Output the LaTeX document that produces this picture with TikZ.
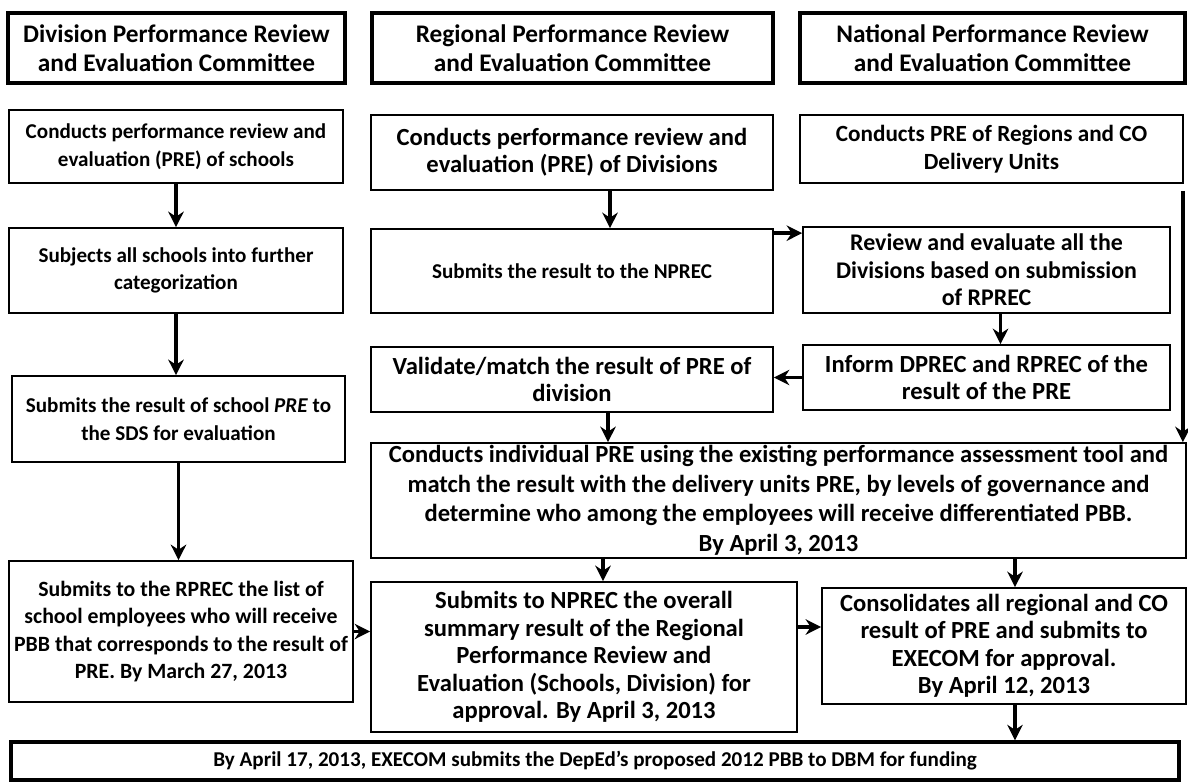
\documentclass[tikz,border=0pt]{standalone}
\usepackage{fontspec}
\setmainfont{Carlito}
\usetikzlibrary{arrows.meta}

\tikzset{
  head/.style={draw, line width=2.4pt, align=center, inner sep=0pt,
    font=\fontsize{18}{21}\selectfont\bfseries},
  box/.style={draw, line width=1.2pt, align=center, inner sep=0pt,
    font=\fontsize{15}{19.5}\selectfont\bfseries},
  fsize/.style={font=\fontsize{#1}{19.5}\selectfont\bfseries},
  arr/.style={line width=2.4pt, -{Stealth[length=11pt,width=11pt]}},
}

\begin{document}
\begin{tikzpicture}[x=0.025cm, y=-0.025cm]
  \useasboundingbox (0,0) rectangle (1188,782);

  % committee headings
  \node[head, minimum width=8.425cm, minimum height=1.75cm] (hdiv) at (176.5,48)
    {Division Performance Review\\and Evaluation Committee};
  \node[head, minimum width=10.025cm, minimum height=1.75cm] (hreg) at (572.5,48)
    {Regional Performance Review\\and Evaluation Committee};
  \node[head, minimum width=9.625cm, minimum height=1.75cm] (hnat) at (992.5,48)
    {National Performance Review\\and Evaluation Committee};

  % division column
  \node[box, minimum width=8.35cm, minimum height=1.825cm] (div1) at (176,146.5)
    {Conducts performance review and\\evaluation (PRE) of schools};
  \node[box, minimum width=8.35cm, minimum height=2.125cm] (div2) at (176,270.5)
    {Subjects all schools into further\\categorization};
  \node[box, minimum width=8.325cm, minimum height=2.15cm] (div3) at (178.5,419)
    {Submits the result of school \textit{PRE} to\\the SDS for evaluation};
  \node[box, fsize=15.5, minimum width=8.6cm, minimum height=3.525cm] (div4) at (181,631.5)
    {Submits to the RPREC the list of\\school employees who will receive\\PBB that corresponds to the result of\\PRE. By March 27, 2013};

  % regional column
  \node[box, fsize=17.5, minimum width=10.05cm, minimum height=1.875cm] (reg1) at (572,152.5)
    {Conducts performance review and\\evaluation (PRE) of Divisions};
  \node[box, minimum width=10.05cm, minimum height=2.1cm] (reg2) at (572,271)
    {Submits the result to the NPREC};
  \node[box, fsize=17.5, minimum width=10.05cm, minimum height=1.625cm] (reg3) at (572,379.5)
    {Validate/match the result of PRE of\\division};
  \node[box, fsize=17.5, minimum width=10.65cm, minimum height=3.75cm] (reg4) at (584,657)
    {Submits to NPREC the overall\\summary result of the Regional\\Performance Review and\\Evaluation (Schools, Division) for\\approval. By April 3, 2013};

  % national column
  \node[box, fsize=16.5, minimum width=9.575cm, minimum height=1.7cm] (nat1) at (991.5,149)
    {Conducts PRE of Regions and CO\\Delivery Units};
  \node[box, fsize=17, minimum width=9.175cm, minimum height=2.15cm] (nat2) at (986.5,270)
    {Review and evaluate all the\\Divisions based on submission\\of RPREC};
  \node[box, fsize=17.5, minimum width=9.175cm, minimum height=1.625cm] (nat3) at (986.5,377.5)
    {Inform DPREC and RPREC of the\\result of the PRE};
  \node[box, fsize=17.5, minimum width=9.1cm, minimum height=2.9cm] (nat4) at (1004,646)
    {Consolidates all regional and CO\\result of PRE and submits to\\EXECOM for approval.\\By April 12, 2013};

  % shared boxes
  \node[box, font=\fontsize{17.5}{21}\selectfont\bfseries, minimum width=20.375cm, minimum height=2.875cm] (indiv) at (778.5,500.5)
    {Conducts individual PRE using the existing performance assessment tool and\\match the result with the delivery units PRE, by levels of governance and\\determine who among the employees will receive differentiated PBB.\\By April 3, 2013};
  \node[box, line width=2.4pt, minimum width=29.2cm, minimum height=0.95cm] (final) at (595,761)
    {By April 17, 2013, EXECOM submits the DepEd's proposed 2012 PBB to DBM for funding};

  % arrows
  \draw[arr] (div1.south) -- (div2.north);
  \draw[arr] (div2.south) -- (div2.south |- div3.north);
  \draw[arr] (div3.south) -- (div3.south |- div4.north);
  \draw[arr] (div4.east) -- (div4.east -| reg4.west);

  \draw[arr] ([xshift=0.95cm]reg1.south) -- ([xshift=0.95cm]reg2.north);
  \draw[arr] ([yshift=-0.125cm]reg2.north east) -- ([yshift=-0.125cm]reg2.north east -| nat2.west);
  \draw[arr] ([xshift=0.35cm]nat2.south) -- ([xshift=0.35cm]nat3.north);
  \draw[arr] (nat3.west) -- (nat3.west -| reg3.east);
  \draw[arr] ([xshift=0.9cm]reg3.south) -- ([xshift=0.9cm]reg3.south |- indiv.north);
  \draw[arr] ([xshift=-0.025cm,yshift=-0.175cm]nat1.south east) -- ([xshift=-0.025cm]nat1.south east |- indiv.north);

  \draw[arr] ([xshift=0.475cm]reg4.north |- indiv.south) -- ([xshift=0.475cm]reg4.north);
  \draw[arr] ([xshift=0.275cm]nat4.north |- indiv.south) -- ([xshift=0.275cm]nat4.north);
  \draw[arr] ([yshift=0.475cm]nat4.west -| reg4.east) -- ([yshift=0.475cm]nat4.west);
  \draw[arr] ([xshift=0.275cm]nat4.south) -- ([xshift=0.275cm]nat4.south |- final.north);
\end{tikzpicture}
\end{document}
